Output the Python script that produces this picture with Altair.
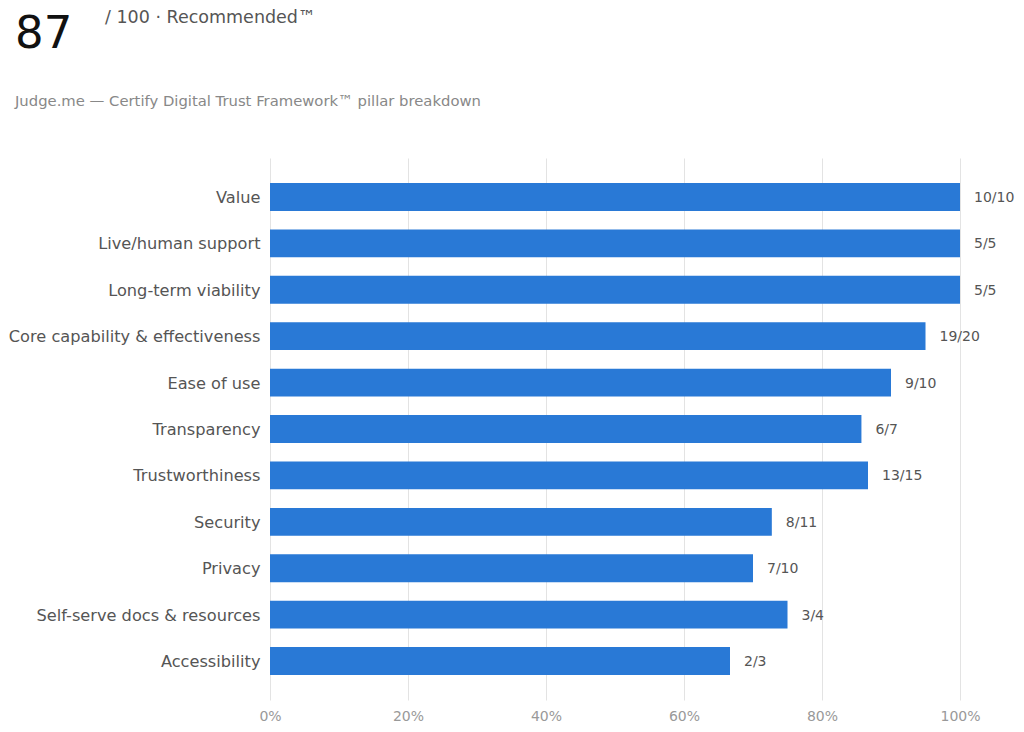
import altair as alt
import pandas as pd

pillars = ["Value", "Live/human support", "Long-term viability", "Core capability & effectiveness",
           "Ease of use", "Transparency", "Trustworthiness", "Security", "Privacy",
           "Self-serve docs & resources", "Accessibility"]
earned = [10, 5, 5, 19, 9, 6, 13, 8, 7, 3, 2]
possible = [10, 5, 5, 20, 10, 7, 15, 11, 10, 4, 3]

df = pd.DataFrame({
    "pillar": pillars,
    "earned": earned,
    "possible": possible,
})
df["pct"] = df["earned"] / df["possible"]
df["label"] = df["earned"].astype(str) + "/" + df["possible"].astype(str)

FONT = "DejaVu Sans"

y_enc = alt.Y("pillar:N", sort=pillars, title=None,
              scale=alt.Scale(paddingInner=0.4, paddingOuter=0.54),
              axis=alt.Axis(labelFontSize=16.2, labelColor="#555555", labelPadding=10,
                            labelOffset=1,
                            labelLimit=0, ticks=False, domain=False, grid=False, labelFont=FONT))
x_enc = alt.X("pct:Q", title=None,
              scale=alt.Scale(domain=[0, 1], nice=False),
              axis=alt.Axis(format="%", values=[0, 0.2, 0.4, 0.6, 0.8, 1.0],
                            labelFontSize=14, labelColor="#999999", labelPadding=9,
                            labelFlush=False,
                            ticks=False, domain=False, grid=True, gridColor="#e3e3e3",
                            labelFont=FONT))

base = alt.Chart(df)
bars = base.mark_bar(color="#2979d6").encode(x=x_enc, y=y_enc)
labels = base.mark_text(align="left", baseline="middle", dx=14, dy=1, fontSize=14,
                        color="#555555", font=FONT).encode(
    x="pct:Q", y=alt.Y("pillar:N", sort=pillars), text="label:N")

big = alt.Chart(pd.DataFrame({"t": ["87"]})).mark_text(
    align="left", baseline="alphabetic", fontSize=45, color="#111111", font=FONT).encode(
    x=alt.value(-255), y=alt.value(-110), text="t:N")
sub1 = alt.Chart(pd.DataFrame({"t": ["/ 100 · Recommended™"]})).mark_text(
    align="left", baseline="alphabetic", fontSize=17.5, color="#555555", font=FONT).encode(
    x=alt.value(-165), y=alt.value(-135), text="t:N")
sub2 = alt.Chart(pd.DataFrame({"t": ["Judge.me — Certify Digital Trust Framework™ pillar breakdown"]})).mark_text(
    align="left", baseline="alphabetic", fontSize=14.8, color="#888888", font=FONT).encode(
    x=alt.value(-255), y=alt.value(-52), text="t:N")

chart = alt.layer(bars, labels, big, sub1, sub2).properties(
    width=690, height=542,
    autosize=alt.AutoSizeParams(type="none"),
    padding={"left": 262, "top": 150, "right": 56, "bottom": 30},
).configure(font=FONT).configure_view(stroke=None, strokeWidth=0)

chart.save("out.html", embed_options={"renderer": "svg", "actions": False})
